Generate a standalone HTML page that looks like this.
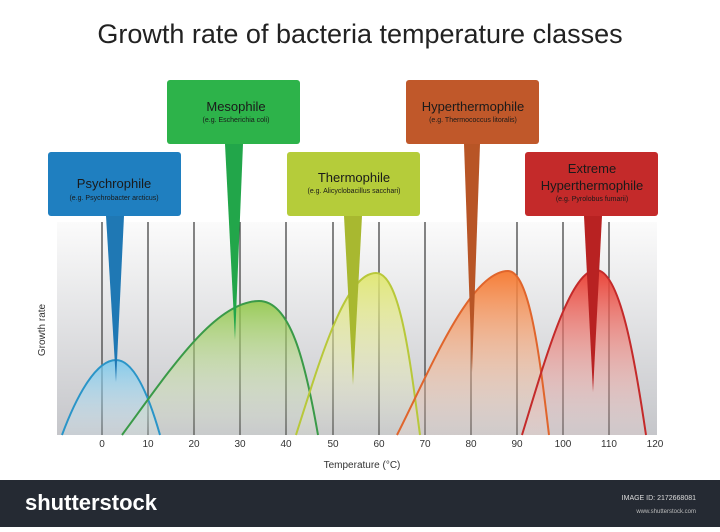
<!DOCTYPE html>
<html><head><meta charset="utf-8"><style>
body{margin:0;width:720px;height:527px;overflow:hidden;background:#fff;font-family:"Liberation Sans",sans-serif}
</style></head><body>
<svg width="720" height="527" viewBox="0 0 720 527" xmlns="http://www.w3.org/2000/svg" font-family="Liberation Sans, sans-serif">
<defs>
<linearGradient id="bg" x1="0" y1="0" x2="0" y2="1"><stop offset="0" stop-color="#fbfbfb"/><stop offset="1" stop-color="#c5c6ca"/></linearGradient>
<linearGradient id="gb" x1="0" y1="0" x2="0" y2="1"><stop offset="0" stop-color="#6ec6ee" stop-opacity=".8"/><stop offset="1" stop-color="#d8eef8" stop-opacity=".2"/></linearGradient>
<linearGradient id="gg" x1="0" y1="0" x2="0" y2="1"><stop offset="0" stop-color="#8cc63f" stop-opacity=".85"/><stop offset="1" stop-color="#e8f2d8" stop-opacity=".1"/></linearGradient>
<linearGradient id="gy" x1="0" y1="0" x2="0" y2="1"><stop offset="0" stop-color="#dfe66a" stop-opacity=".9"/><stop offset="1" stop-color="#f0f2d8" stop-opacity=".1"/></linearGradient>
<linearGradient id="go" x1="0" y1="0" x2="0" y2="1"><stop offset="0" stop-color="#f6782e" stop-opacity=".95"/><stop offset="1" stop-color="#f8dccc" stop-opacity=".2"/></linearGradient>
<linearGradient id="gr" x1="0" y1="0" x2="0" y2="1"><stop offset="0" stop-color="#ea3a2e" stop-opacity=".95"/><stop offset="1" stop-color="#f5d0cc" stop-opacity=".2"/></linearGradient>
</defs>
<text x="360" y="43" font-size="27" text-anchor="middle" fill="#222">Growth rate of bacteria temperature classes</text>
<rect x="57" y="222" width="600" height="213" fill="url(#bg)"/>
<g stroke="#444" stroke-width="1.3">
<line x1="102" y1="222" x2="102" y2="435"/><line x1="148" y1="222" x2="148" y2="435"/><line x1="194" y1="222" x2="194" y2="435"/><line x1="240" y1="222" x2="240" y2="435"/><line x1="286" y1="222" x2="286" y2="435"/><line x1="333" y1="222" x2="333" y2="435"/><line x1="379" y1="222" x2="379" y2="435"/><line x1="425" y1="222" x2="425" y2="435"/><line x1="471" y1="222" x2="471" y2="435"/><line x1="517" y1="222" x2="517" y2="435"/><line x1="563" y1="222" x2="563" y2="435"/><line x1="609" y1="222" x2="609" y2="435"/>
</g>
<g stroke="none">
<path d="M62 435 C75 400 95 360 116 360 C135 360 150 400 160 435Z" fill="url(#gb)"/>
<path d="M122 435 C170 370 215 301 259 301 C290 301 305 360 318 435Z" fill="url(#gg)"/>
<path d="M296 435 C320 360 345 273 376 273 C400 273 410 360 420 435Z" fill="url(#gy)"/>
<path d="M397 435 C430 370 470 271 508 271 C530 271 540 360 549 435Z" fill="url(#go)"/>
<path d="M522 435 C545 360 570 270 596 270 C620 270 635 360 646 435Z" fill="url(#gr)"/>
</g>
<g stroke-width="2" fill="none">
<path d="M62 435 C75 400 95 360 116 360 C135 360 150 400 160 435" stroke="#2a95c8"/>
<path d="M122 435 C170 370 215 301 259 301 C290 301 305 360 318 435" stroke="#3a9a48"/>
<path d="M296 435 C320 360 345 273 376 273 C400 273 410 360 420 435" stroke="#b8c83a"/>
<path d="M397 435 C430 370 470 271 508 271 C530 271 540 360 549 435" stroke="#e0652c"/>
<path d="M522 435 C545 360 570 270 596 270 C620 270 635 360 646 435" stroke="#c42a2a"/>
</g>
<polygon points="106,216 124,216 116,382" fill="#1f78b4"/>
<rect x="48" y="152" width="133" height="64" rx="3" fill="#1f7fc0"/>
<polygon points="225,144 243,144 235,340" fill="#22a64a"/>
<rect x="167" y="80" width="133" height="64" rx="3" fill="#2db34a"/>
<polygon points="344,216 362,216 353,385" fill="#a8b830"/>
<rect x="287" y="152" width="133" height="64" rx="3" fill="#b5cc3a"/>
<polygon points="464,144 480,144 472,372" fill="#b85526"/>
<rect x="406" y="80" width="133" height="64" rx="3" fill="#c0582a"/>
<polygon points="584,216 602,216 593,392" fill="#b82222"/>
<rect x="525" y="152" width="133" height="64" rx="3" fill="#c42a2a"/>
<g fill="#1a1a1a" text-anchor="middle">
<text x="114" y="188" font-size="13">Psychrophile</text><text x="114" y="200" font-size="7">(e.g. Psychrobacter arcticus)</text>
<text x="236" y="111" font-size="13">Mesophile</text><text x="236" y="122" font-size="7">(e.g. Escherichia coli)</text>
<text x="354" y="182" font-size="13">Thermophile</text><text x="354" y="193" font-size="7">(e.g. Alicyclobacillus sacchari)</text>
<text x="473" y="111" font-size="13">Hyperthermophile</text><text x="473" y="122" font-size="7">(e.g. Thermococcus litoralis)</text>
<text x="592" y="173" font-size="13">Extreme</text><text x="592" y="190" font-size="13">Hyperthermophile</text><text x="592" y="201" font-size="7">(e.g. Pyrolobus fumarii)</text>
</g>
<g font-size="10" fill="#333" text-anchor="middle">
<text x="102" y="447">0</text><text x="148" y="447">10</text><text x="194" y="447">20</text><text x="240" y="447">30</text><text x="286" y="447">40</text><text x="333" y="447">50</text><text x="379" y="447">60</text><text x="425" y="447">70</text><text x="471" y="447">80</text><text x="517" y="447">90</text><text x="563" y="447">100</text><text x="609" y="447">110</text><text x="655" y="447">120</text>
<text x="362" y="468">Temperature (°C)</text>
<text transform="translate(45,330) rotate(-90)">Growth rate</text>
</g>
<rect x="0" y="480" width="720" height="47" fill="#252a33"/>
<text x="25" y="510" font-size="22" fill="#fff" font-weight="bold">shutterstock</text>
<text x="696" y="500" font-size="7" fill="#ddd" text-anchor="end">IMAGE ID: 2172668081</text>
<text x="696" y="513" font-size="6" fill="#bbb" text-anchor="end">www.shutterstock.com</text>
</svg>
</body></html>
